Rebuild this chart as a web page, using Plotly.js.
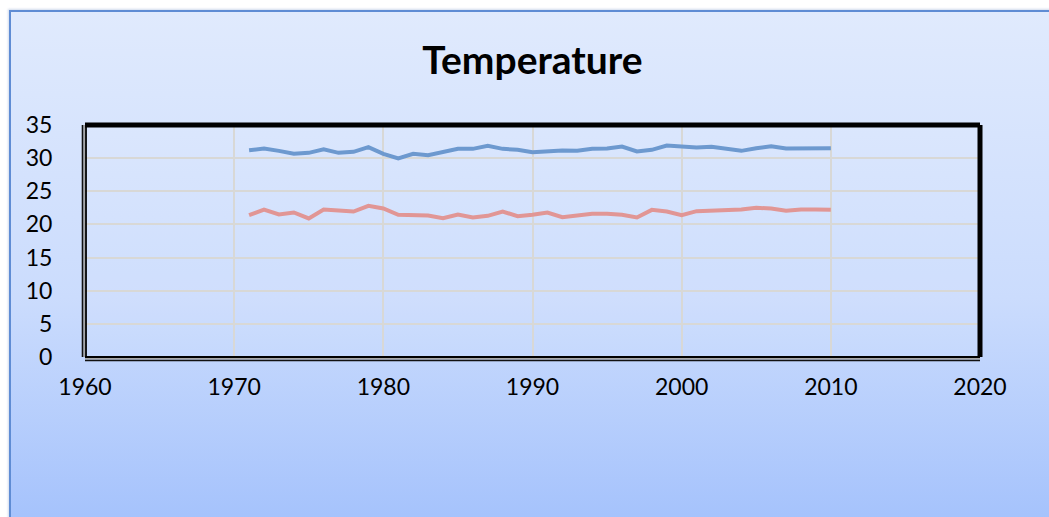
<!DOCTYPE html>
<html>
<head>
<meta charset="utf-8">
<script src="https://cdn.plot.ly/plotly-3.0.1.min.js"></script>
<style>
  html, body { margin: 0; padding: 0; background: #ffffff; }
  #wrap { position: relative; width: 1049px; height: 517px; overflow: hidden; }
  #bg { position: absolute; left: 9px; top: 10px; width: 1060px; height: 520px;
        border-left: 2px solid #5f8cd4; border-top: 2px solid #5f8cd4;
        box-shadow: -1px -1px 2px rgba(120,150,200,0.35);
        background: linear-gradient(to bottom, #e0eafd 0%, #cbdcfd 55%, #a3c1fc 100%); }
  #chart { position: absolute; left: 0; top: 0; width: 1049px; height: 517px; }
</style>
</head>
<body>
<div id="wrap">
  <div id="bg"></div>
  <div id="chart"></div>
</div>
<script>
const years = [1971,1972,1973,1974,1975,1976,1977,1978,1979,1980,
               1981,1982,1983,1984,1985,1986,1987,1988,1989,1990,
               1991,1992,1993,1994,1995,1996,1997,1998,1999,2000,
               2001,2002,2003,2004,2005,2006,2007,2008,2009,2010];
const seriesHigh = [31.2,31.45,31.1,30.65,30.8,31.35,30.8,30.95,31.65,30.65,
                    29.95,30.65,30.45,30.85,31.4,31.4,31.85,31.4,31.25,30.9,
                    31.05,31.15,31.1,31.4,31.45,31.75,31.0,31.25,31.9,31.7,
                    31.6,31.7,31.4,31.1,31.5,31.8,31.45,31.5,31.6,31.5];
const seriesLow = [21.4,22.24,21.5,21.8,20.9,22.24,22.1,21.95,22.8,22.4,
                   21.45,21.45,21.35,20.95,21.5,21.05,21.3,21.95,21.25,21.45,
                   21.8,21.1,21.4,21.6,21.6,21.45,21.05,22.2,21.95,21.4,
                   22.0,22.05,22.2,22.25,22.5,22.4,22.05,22.25,22.25,22.2];
const titleText = "Temperature";
const xTicks = [1960,1970,1980,1990,2000,2010,2020];
const yTicks = [0,5,10,15,20,25,30,35];

const font = "Lato, 'Open Sans', sans-serif";

const traces = [
  { x: years, y: seriesHigh, type: 'scatter', mode: 'lines', name: 'Max',
    line: { color: '#6d99cf', width: 4 }, hoverinfo: 'x+y' },
  { x: years, y: seriesLow, type: 'scatter', mode: 'lines', name: 'Min',
    line: { color: '#e19695', width: 4 }, hoverinfo: 'x+y' }
];

const layout = {
  width: 1049, height: 517,
  margin: { l: 85, r: 69, t: 125, b: 160, pad: 0 },
  paper_bgcolor: 'rgba(0,0,0,0)',
  plot_bgcolor: 'rgba(255,255,255,0.08)',
  showlegend: false,
  font: { family: font, color: '#000000', size: 23 },
  title: { text: '<b>' + titleText + '</b>', font: { family: font, size: 39, color: '#000' },
           x: 0.5, xref: 'paper', xanchor: 'center', y: 1 - 60/517, yref: 'container', yanchor: 'middle' },
  xaxis: {
    range: [1960, 2020], tickvals: xTicks, ticktext: xTicks.map(String),
    showgrid: true, gridcolor: '#d8d8d6', gridwidth: 2,
    zeroline: false, showline: false,
    ticks: 'outside', ticklen: 9, tickcolor: 'rgba(0,0,0,0)',
    tickfont: { family: font, size: 23, color: '#000' }
  },
  yaxis: {
    range: [0, 35], tickvals: yTicks, ticktext: yTicks.map(String),
    showgrid: true, gridcolor: '#d8d8d6', gridwidth: 2,
    zeroline: false, showline: false,
    ticks: 'outside', ticklen: 27, tickcolor: 'rgba(0,0,0,0)',
    tickfont: { family: font, size: 23, color: '#000' }
  },
  shapes: [
    { type: 'line', xref: 'paper', yref: 'paper', x0: 0, x1: 1, y0: 1, y1: 1, line: { color: '#000', width: 5 } },
    { type: 'line', xref: 'paper', yref: 'paper', x0: 1, x1: 1, y0: 0, y1: 1, line: { color: '#000', width: 5 } },
    { type: 'line', xref: 'paper', yref: 'paper', xsizemode: 'pixel', xanchor: 0, x0: 1, x1: 1, y0: 0, y1: 1,
      line: { color: '#000', width: 1.8 } },
    { type: 'line', xref: 'paper', yref: 'paper', ysizemode: 'pixel', yanchor: 0, y0: 0, y1: 0, x0: 0, x1: 1,
      line: { color: '#000', width: 1.8 } },
    { type: 'line', xref: 'paper', yref: 'paper', xsizemode: 'pixel', xanchor: 0, x0: -0.8, x1: -0.8, y0: 0, y1: 1,
      line: { color: '#a8a8a8', width: 1.6 } },
    { type: 'line', xref: 'paper', yref: 'paper', ysizemode: 'pixel', yanchor: 0, y0: -1.8, y1: -1.8, x0: 0, x1: 1,
      line: { color: '#a8a8a8', width: 1.6 } },
    { type: 'line', xref: 'paper', yref: 'paper', xsizemode: 'pixel', xanchor: 0, x0: -2.5, x1: -2.5, y0: 0, y1: 1,
      line: { color: '#111', width: 1.6 } },
    { type: 'line', xref: 'paper', yref: 'paper', ysizemode: 'pixel', yanchor: 0, y0: -3.5, y1: -3.5, x0: 0, x1: 1,
      line: { color: '#111', width: 1.6 } }
  ]
};

Plotly.newPlot('chart', traces, layout, { displayModeBar: false, staticPlot: true });
</script>
</body>
</html>
